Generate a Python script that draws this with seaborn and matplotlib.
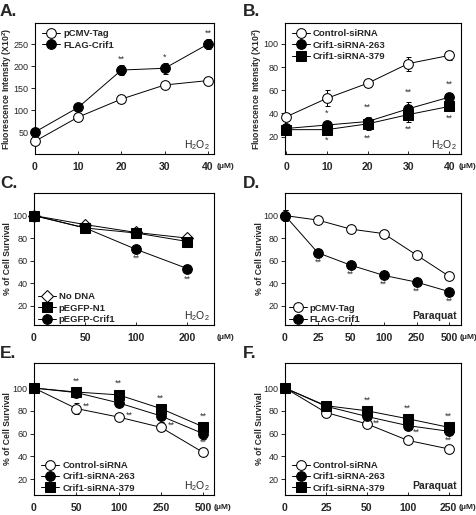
import numpy as np
import pandas as pd
import seaborn as sns
import matplotlib.pyplot as plt

# ---- data ----
# A: fluorescence, H2O2 (uM)
a_dose = [0, 10, 20, 30, 40]
a_pcmv = [29, 84, 125, 157, 167]
a_pcmv_err = [5, 4, 8, 3, 8]
a_flag = [50, 106, 191, 195, 250]
a_flag_err = [3, 3, 12, 13, 12]

# B: fluorescence after siRNA, H2O2 (uM)
b_dose = [0, 10, 20, 30, 40]
b_ctrl = [37, 53, 66, 83, 90]
b_ctrl_err = [3, 7, 3, 6, 4]
b_263 = [27, 30, 33, 44, 54]
b_263_err = [3, 3, 4, 6, 3]
b_379 = [26, 26, 31, 39, 46]
b_379_err = [3, 3, 5, 6, 4]

# C: survival, H2O2 (uM)
c_labels = ["0", "50", "100", "200"]
c_nodna = [100, 92, 85, 80]
c_nodna_err = [1, 1, 1, 1]
c_n1 = [100, 89, 84.5, 77]
c_n1_err = [1, 1, 1, 1]
c_crif = [100, 89, 70, 53]
c_crif_err = [1, 1, 2, 3]

# D: survival, paraquat (uM)
d_labels = ["0", "25", "50", "100", "250", "500"]
d_pcmv = [100, 96, 88, 84, 65, 46]
d_pcmv_err = [5, 3, 3, 3, 1, 1]
d_flag = [100, 67, 56, 47, 41, 32.5]
d_flag_err = [5, 3, 2, 1, 1, 1]

# E: survival after siRNA, H2O2 (uM)
e_labels = ["0", "50", "100", "250", "500"]
e_ctrl = [100, 82, 74.5, 65.5, 43.5]
e_ctrl_err = [2, 5, 2, 3, 2]
e_263 = [100, 96, 87, 75.5, 60]
e_263_err = [2, 3, 3, 5, 5]
e_379 = [100, 96.5, 94, 82, 66]
e_379_err = [2, 3, 3, 2, 2]

# F: survival after siRNA, paraquat (uM)
f_labels = ["0", "25", "50", "100", "250"]
f_ctrl = [100, 78.5, 68.5, 54, 46.5]
f_ctrl_err = [1, 2, 1, 2, 2]
f_263 = [100, 84, 75, 67, 62]
f_263_err = [1, 1, 2, 3, 2]
f_379 = [100, 84.5, 80, 73, 65.5]
f_379_err = [1, 1, 2, 2, 2]

# significance marks: (x, y, text)
a_stars = [(20, 215, "**"), (30, 219, "*"), (40, 274, "**")]
b_stars = [(10, 40, "*"), (10, 17, "*"), (20, 45, "**"), (20, 19, "**"),
           (30, 58, "**"), (30, 26, "**"), (40, 65, "**"), (40, 36, "**")]
c_stars = [(2, 62, "**"), (3, 44, "**")]
d_stars = [(1, 59, "**"), (2, 48, "**"), (3, 39, "**"), (4, 33, "**"), (5, 24, "**")]
e_stars = [(1, 106, "**"), (1.25, 84, "**"), (2, 104, "**"), (2.25, 76, "**"),
           (3, 91, "**"), (3.25, 67, "**"), (4, 75, "**"), (4, 52, "**")]
f_stars = [(2, 89, "**"), (2.22, 69, "**"), (3, 82, "**"), (3.2, 61, "**"),
           (4, 75, "**"), (4, 54, "**")]

sns.set_style("ticks")
plt.rcParams["font.family"] = ["Liberation Sans", "DejaVu Sans"]
plt.rcParams["mathtext.default"] = "regular"

fig = plt.figure(figsize=(4.77, 5.15), dpi=100)

H = 131 / 515
axA = fig.add_axes([35 / 477, 1 - 154 / 515, 179 / 477, H])
axB = fig.add_axes([285 / 477, 1 - 154 / 515, 176 / 477, H])
axC = fig.add_axes([34 / 477, 1 - 325 / 515, 180 / 477, 132 / 515])
axD = fig.add_axes([285 / 477, 1 - 325 / 515, 176 / 477, 132 / 515])
axE = fig.add_axes([34 / 477, 1 - 495 / 515, 180 / 477, 132 / 515])
axF = fig.add_axes([285 / 477, 1 - 495 / 515, 176 / 477, 132 / 515])

# panel letters (figure pixels: x, baseline y)
for txt, px, py in [("A.", 0, 16), ("B.", 243, 16), ("C.", 0, 188),
                    ("D.", 243, 188), ("E.", 0, 358), ("F.", 243, 358)]:
    fig.text(px / 477, 1 - py / 515, txt, fontsize=12.5, fontweight="bold",
             va="baseline", ha="left")

OPEN = dict(markerfacecolor="white", markeredgecolor="black")
FILL = dict(markerfacecolor="black", markeredgecolor="black")


def series(ax, x, y, err, label, marker, face, ms=7):
    df = pd.DataFrame({"x": x, "y": y})
    sns.lineplot(data=df, x="x", y="y", ax=ax, color="black", lw=0.7,
                 marker=marker, markersize=ms, label=label, clip_on=False,
                 zorder=3, **face)
    ax.errorbar(x, y, yerr=err, fmt="none", ecolor="black", elinewidth=0.7,
                capsize=1.8, capthick=0.7, zorder=2, clip_on=False)


def style(ax, xlim, ylim, yticks, xticks, xlabels, ylabel, agent,
          agent_bold=False, mu_x=1.0, ylabel_size=6.2):
    ax.set_xlim(*xlim)
    ax.set_ylim(*ylim)
    ax.set_yticks(yticks)
    ax.set_xticks(xticks)
    ax.set_xticklabels(xlabels)
    ax.set_xlabel("")
    ax.set_ylabel(ylabel, fontsize=ylabel_size, fontweight="bold")
    ax.yaxis.set_label_coords(-0.12, 0.5)
    for s in ax.spines.values():
        s.set_linewidth(0.8)
        s.set_color("black")
    ax.tick_params(axis="y", direction="out", length=3, width=0.7,
                   labelsize=6.5, pad=1.5)
    ax.tick_params(axis="x", direction="in", length=2, width=0.7,
                   labelsize=7.5, pad=5.5)
    for t in ax.get_xticklabels():
        t.set_fontweight("bold")
        t.set_family(["Liberation Sans Narrow", "Liberation Sans"])
    ax.text(mu_x, -0.092, "(\u03bcM)", transform=ax.transAxes, fontsize=6,
            fontweight="bold", va="center", ha="left")
    ax.text(0.975, 0.07, agent, transform=ax.transAxes, fontsize=7.5,
            fontweight="bold" if agent_bold else "normal",
            va="center", ha="right")


def stars(ax, marks):
    for x, y, s in marks:
        ax.text(x, y, s, fontsize=6.5, ha="center", va="center", color="#333333")


def legend(ax, loc, anchor):
    ax.legend(loc=loc, bbox_to_anchor=anchor, frameon=False,
              handlelength=1.9, handletextpad=0.3, labelspacing=0.25,
              borderaxespad=0.0, prop={"weight": "bold", "size": 6.8})


# A
series(axA, a_dose, a_pcmv, a_pcmv_err, "pCMV-Tag", "o", OPEN)
series(axA, a_dose, a_flag, a_flag_err, "FLAG-Crif1", "o", FILL)
style(axA, (0, 41.4), (0, 298), [50, 100, 150, 200, 250], [0, 10, 20, 30, 40],
      ["0", "10", "20", "30", "40"], "Fluorescence Intensity (X10$^2$)",
      "H$_2$O$_2$", mu_x=1.017)
stars(axA, a_stars)
legend(axA, "upper left", (0.02, 0.98))

# B
series(axB, b_dose, b_ctrl, b_ctrl_err, "Control-siRNA", "o", OPEN)
series(axB, b_dose, b_263, b_263_err, "Crif1-siRNA-263", "o", FILL)
series(axB, b_dose, b_379, b_379_err, "Crif1-siRNA-379", "s", FILL)
style(axB, (-0.25, 42.9), (5, 118), [20, 40, 60, 80, 100], [0, 10, 20, 30, 40],
      ["0", "10", "20", "30", "40"], "Fluorescence Intensity (X10$^2$)",
      "H$_2$O$_2$", mu_x=0.985)
stars(axB, b_stars)
legend(axB, "upper left", (0.02, 0.98))

# C
cx = np.arange(len(c_labels))
series(axC, cx, c_nodna, c_nodna_err, "No DNA", "D", OPEN, ms=6)
series(axC, cx, c_n1, c_n1_err, "pEGFP-N1", "s", FILL)
series(axC, cx, c_crif, c_crif_err, "pEGFP-Crif1", "o", FILL)
style(axC, (0, 3.52), (3, 120), [20, 40, 60, 80, 100], cx, c_labels,
      "% of Cell Survival", "H$_2$O$_2$", mu_x=1.017)
stars(axC, c_stars)
legend(axC, "lower left", (0.0, -0.02))

# D
dx = np.arange(len(d_labels))
series(axD, dx, d_pcmv, d_pcmv_err, "pCMV-Tag", "o", OPEN)
series(axD, dx, d_flag, d_flag_err, "FLAG-Crif1", "o", FILL)
style(axD, (0, 5.35), (3, 120), [20, 40, 60, 80, 100], dx, d_labels,
      "% of Cell Survival", "Paraquat", agent_bold=True, mu_x=0.99)
stars(axD, d_stars)
legend(axD, "lower left", (0.0, -0.02))

# E
ex = np.arange(len(e_labels))
series(axE, ex, e_ctrl, e_ctrl_err, "Control-siRNA", "o", OPEN)
series(axE, ex, e_263, e_263_err, "Crif1-siRNA-263", "o", FILL)
series(axE, ex, e_379, e_379_err, "Crif1-siRNA-379", "s", FILL)
style(axE, (0, 4.26), (6, 122), [20, 40, 60, 80, 100], ex, e_labels,
      "% of Cell Survival", "H$_2$O$_2$", mu_x=1.0)
stars(axE, e_stars)
legend(axE, "lower left", (0.02, -0.01))

# F
fx = np.arange(len(f_labels))
series(axF, fx, f_ctrl, f_ctrl_err, "Control-siRNA", "o", OPEN)
series(axF, fx, f_263, f_263_err, "Crif1-siRNA-263", "o", FILL)
series(axF, fx, f_379, f_379_err, "Crif1-siRNA-379", "s", FILL)
style(axF, (0, 4.3), (6, 122), [20, 40, 60, 80, 100], fx, f_labels,
      "% of Cell Survival", "Paraquat", agent_bold=True, mu_x=0.985)
stars(axF, f_stars)
legend(axF, "lower left", (0.02, -0.01))

fig.savefig("out.png", dpi=100)
